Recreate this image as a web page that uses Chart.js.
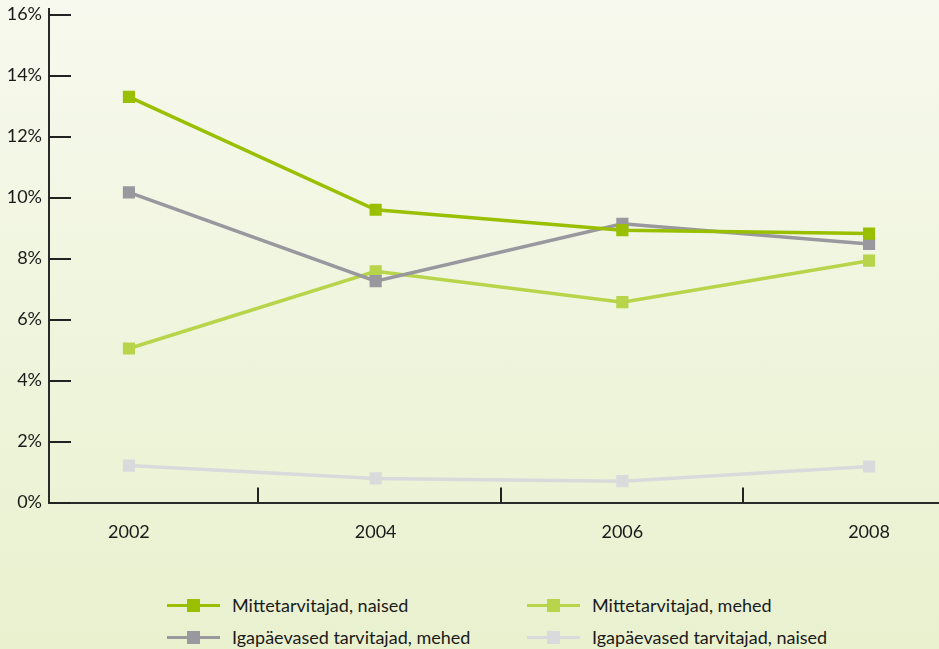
<!DOCTYPE html>
<html>
<head>
<meta charset="utf-8">
<script src="https://cdn.jsdelivr.net/npm/chart.js@4"></script>
<style>
  html, body { margin: 0; padding: 0; }
  body {
    width: 939px;
    height: 649px;
    overflow: hidden;
    position: relative;
    background: linear-gradient(to bottom, #f7f9ee 0%, #eef4da 60%, #eaf1cf 100%);
    font-family: Lato, sans-serif;
  }
  #wrap { position: absolute; left: 0; top: 0; width: 939px; height: 580px; }
  .leg { position: absolute; height: 20px; display: flex; align-items: center; color: #1a1a1a; font-size: 18px; }
  .sym { position: relative; width: 53px; height: 20px; margin-right: 12px; }
  .sym .ln { position: absolute; left: 0; right: 0; top: 9px; height: 3px; }
  .sym .sq { position: absolute; left: 20px; top: 4px; width: 13px; height: 13px; }
</style>
</head>
<body>
<div id="wrap"><canvas id="chart"></canvas></div>
<div id="legend"></div>
<script>
// years on the x axis
let years = [2002, 2004, 2006, 2008];
// small tick marks between the years (slightly off-centre in the original)
let minorTicks = [2003.05, 2005.02, 2006.98];
let yTicks = [0, 2, 4, 6, 8, 10, 12, 14, 16];

// share of population, %
let naisedMitte = [13.3, 9.6, 8.93, 8.82];
let igaMehed = [10.17, 7.26, 9.14, 8.48];
let mehedMitte = [5.05, 7.58, 6.57, 7.93];
let igaNaised = [1.21, 0.79, 0.7, 1.18];

let seriesNames = [
  "Mittetarvitajad, naised",
  "Igapäevased tarvitajad, mehed",
  "Mittetarvitajad, mehed",
  "Igapäevased tarvitajad, naised",
];
let seriesColors = ["#99bf00", "#99989e", "#b8d44a", "#d9dadc"];
let seriesValues = [naisedMitte, igaMehed, mehedMitte, igaNaised];

// tick marks drawn inwards from the axes
const innerTicks = {
  id: "innerTicks",
  afterDraw(chart) {
    const ctx = chart.ctx;
    const xs = chart.scales.x;
    const ys = chart.scales.y;
    ctx.save();
    ctx.strokeStyle = "#222";
    ctx.lineWidth = 2;
    ctx.beginPath();
    yTicks.forEach(function (v) {
      let py = Math.round(ys.getPixelForValue(v));
      ctx.moveTo(xs.left, py);
      ctx.lineTo(xs.left + 22, py);
    });
    minorTicks.forEach(function (v) {
      let px = Math.round(xs.getPixelForValue(v));
      ctx.moveTo(px, ys.bottom);
      ctx.lineTo(px, ys.bottom - 15);
    });
    ctx.stroke();
    ctx.restore();
  },
};

const datasets = seriesNames.map(function (name, i) {
  return {
    label: name,
    data: years.map((y, j) => ({ x: y, y: seriesValues[i][j] })),
    borderColor: seriesColors[i],
    backgroundColor: seriesColors[i],
    borderWidth: 3.5,
    pointStyle: "rect",
    pointRadius: 8.6,
    pointBorderWidth: 0,
    pointHoverRadius: 8.6,
    tension: 0,
  };
});

new Chart(document.getElementById("chart"), {
  type: "line",
  data: { datasets: datasets },
  options: {
    responsive: true,
    maintainAspectRatio: false,
    animation: false,
    layout: { autoPadding: false, padding: { top: 8.5, right: 0, bottom: 0, left: 0 } },
    plugins: { legend: { display: false }, tooltip: { enabled: false } },
    scales: {
      x: {
        type: "linear",
        min: 2001.352,
        max: 2008.567,
        afterBuildTicks(scale) {
          scale.ticks = years.map((v) => ({ value: v }));
        },
        afterFit(scale) {
          scale.height = 77.5;
          scale.paddingLeft = 0;
          scale.paddingRight = 0;
        },
        grid: { display: false, drawTicks: false },
        border: { display: true, color: "#2a2a2a", width: 2 },
        ticks: {
          padding: 19,
          color: "#1a1a1a",
          font: { family: "Lato", size: 18 },
          callback: (v) => String(v),
        },
      },
      y: {
        min: 0,
        max: 16.2,
        afterBuildTicks(scale) {
          scale.ticks = yTicks.map((v) => ({ value: v }));
        },
        afterFit(scale) {
          scale.width = 49;
          scale.paddingTop = 0;
          scale.paddingBottom = 0;
        },
        grid: { display: false, drawTicks: false },
        border: { display: true, color: "#2a2a2a", width: 2 },
        ticks: {
          padding: 7,
          color: "#1a1a1a",
          font: { family: "Lato", size: 18 },
          callback: (v) => v + "%",
        },
      },
    },
  },
  plugins: [innerTicks],
});

// legend in two columns, same order as the original
let legendOrder = [0, 2, 1, 3];
let legendPos = [
  [167, 595],
  [527, 595],
  [167, 627],
  [527, 627],
];
let legendBox = document.getElementById("legend");
legendOrder.forEach(function (idx, k) {
  let item = document.createElement("div");
  item.className = "leg";
  item.style.left = legendPos[k][0] + "px";
  item.style.top = legendPos[k][1] + "px";
  item.innerHTML =
    '<div class="sym"><div class="ln" style="background:' + seriesColors[idx] +
    '"></div><div class="sq" style="background:' + seriesColors[idx] +
    '"></div></div><span>' + seriesNames[idx] + "</span>";
  legendBox.appendChild(item);
});
</script>
</body>
</html>
